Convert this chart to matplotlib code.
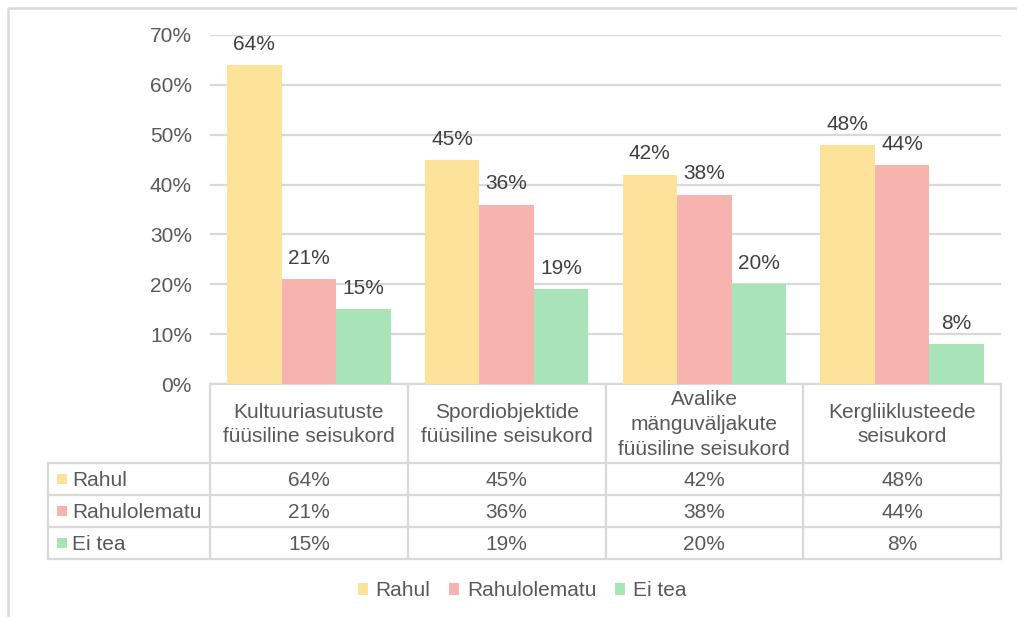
import matplotlib
matplotlib.use("Agg")
import matplotlib.pyplot as plt
from matplotlib.patches import Rectangle, Patch
import numpy as np

categories = ["Kultuuriasutuste\nfüüsiline seisukord",
              "Spordiobjektide\nfüüsiline seisukord",
              "Avalike\nmänguväljakute\nfüüsiline seisukord",
              "Kergliiklusteede\nseisukord"]
series_names = ["Rahul", "Rahulolematu", "Ei tea"]
rahul = [64, 45, 42, 48]
rahulolematu = [21, 36, 38, 44]
ei_tea = [15, 19, 20, 8]
yticks = [0, 10, 20, 30, 40, 50, 60, 70]

values = [rahul, rahulolematu, ei_tea]
colors = ["#FCE399", "#F7B3AE", "#A8E4B8"]
grid_c = "#D9D9D9"
txt_c = "#595959"
lab_c = "#404040"
FS = 15

plt.rcParams['font.family'] = ['Liberation Sans', 'DejaVu Sans']

W, H = 1017, 617
fig = plt.figure(figsize=(W / 100, H / 100), dpi=100)

# overlay axes in pixel coordinates for frame and table
ov = fig.add_axes([0, 0, 1, 1])
ov.set_xlim(0, W)
ov.set_ylim(H, 0)
ov.axis('off')

# bar axes
L, R, T, B = 210, 1001, 35, 384
ax = fig.add_axes([L / W, (H - B) / H, (R - L) / W, (B - T) / H])
n = len(categories)
x = np.arange(n)
bw = 0.276
for i, (vals, c) in enumerate(zip(values, colors)):
    pos = x + (i - 1) * bw
    ax.bar(pos, vals, width=bw, color=c, zorder=3, linewidth=0)
    for p, v in zip(pos, vals):
        ax.annotate(f"{v}%", (p, v), xytext=(0, 8), textcoords='offset points',
                    ha='center', va='bottom', fontsize=FS, color=lab_c, zorder=4)
ax.set_xlim(-0.5, n - 0.5)
ax.set_ylim(0, 70)
ax.set_yticks(yticks)
ax.set_yticklabels([f"{t}%" for t in yticks], fontsize=FS, color=txt_c)
ax.tick_params(axis='y', length=0, pad=13)
ax.set_xticks([])
for s in ax.spines.values():
    s.set_visible(False)
ax.yaxis.grid(True, color=grid_c, linewidth=1.6, zorder=0)
ax.set_axisbelow(True)
ax.patch.set_alpha(0)

# outer frame
ov.plot([8, 8], [8, H], color=grid_c, lw=1.8, solid_capstyle='butt')
ov.plot([8, W], [8, 8], color=grid_c, lw=1.8, solid_capstyle='butt')

# table
colw = (R - L) / n
row_y = [384, 463, 495, 527, 559]
tl = 48
lw = 1.6
ov.plot([L, R], [row_y[0], row_y[0]], color=grid_c, lw=lw)
for yy in row_y[1:]:
    ov.plot([tl, R], [yy, yy], color=grid_c, lw=lw)
for k in range(n + 1):
    xx = L + k * colw
    ov.plot([xx, xx], [row_y[0], row_y[-1]], color=grid_c, lw=lw)
ov.plot([tl, tl], [row_y[1], row_y[-1]], color=grid_c, lw=lw)

# header texts
for k, cat in enumerate(categories):
    ov.text(L + (k + 0.5) * colw, (row_y[0] + row_y[1]) / 2 + 1, cat,
            ha='center', va='center', fontsize=FS, color=txt_c, linespacing=1.4)

# rows
for r, (name, vals, c) in enumerate(zip(series_names, values, colors)):
    yc = (row_y[r + 1] + row_y[r + 2]) / 2
    ov.add_patch(Rectangle((57, yc - 5), 10, 10, color=c, lw=0))
    ov.text(72, yc + 1, name, ha='left', va='center', fontsize=FS, color=txt_c)
    for k, v in enumerate(vals):
        ov.text(L + (k + 0.5) * colw, yc + 1, f"{v}%", ha='center', va='center',
                fontsize=FS, color=txt_c)

# legend
handles = [Patch(color=c, lw=0) for c in colors]
leg = fig.legend(handles, series_names, loc='center', bbox_to_anchor=(522 / W, (H - 591) / H),
                 ncol=3, frameon=False, fontsize=FS, handlelength=0.5, handleheight=0.5,
                 handletextpad=0.35, columnspacing=0.9, labelcolor=txt_c)

fig.savefig("out.png", dpi=100)
